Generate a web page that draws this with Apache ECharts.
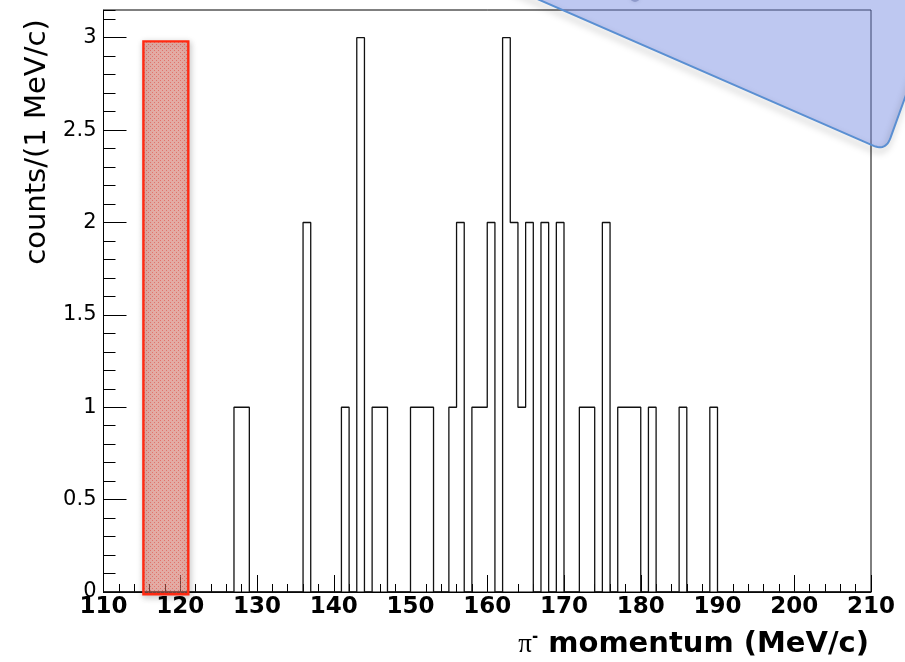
<!DOCTYPE html>
<html>
<head>
<meta charset="utf-8">
<script src="https://cdn.jsdelivr.net/npm/echarts@6/dist/echarts.min.js"></script>
<style>
  html, body { margin: 0; padding: 0; background: #fff; }
  #chart { width: 905px; height: 662px; }
</style>
</head>
<body>
<div id="chart"></div>
<script>
// π⁻ momentum spectrum, 1 MeV/c bins between 110 and 210 MeV/c
const xRange = [110, 210];
const binWidth = 1;
// lower edges (MeV/c) of the non-empty bins and their counts
const binLowEdges = [127, 128, 136, 141, 143, 145, 146, 150, 151, 152, 155, 156, 158, 159, 160,
                     162, 163, 164, 165, 167, 169, 172, 173, 175, 177, 178, 179, 181, 185, 189];
const binCounts   = [1, 1, 2, 1, 3, 1, 1, 1, 1, 1, 1, 2, 1, 1, 2,
                     3, 2, 1, 2, 2, 2, 1, 1, 2, 1, 1, 1, 1, 1, 1];
// tick labels
const xTickLabels = [110, 120, 130, 140, 150, 160, 170, 180, 190, 200, 210];
const yTickLabels = [0, 0.5, 1, 1.5, 2, 2.5, 3];
const yMax = 3.15;
// highlighted momentum window (MeV/c) and its extent in counts
const bandRange = [115.2, 121.05];
const bandCounts = [-0.012, 2.98];

// full histogram: one entry per bin
const nBins = Math.round((xRange[1] - xRange[0]) / binWidth);
const counts = new Array(nBins).fill(0);
binLowEdges.forEach((edge, i) => {
  counts[Math.round((edge - xRange[0]) / binWidth)] = binCounts[i];
});
// outline of the histogram: flat top across each bin
const outline = [];
counts.forEach((c, i) => {
  const lo = xRange[0] + i * binWidth;
  outline.push([lo, c], [lo + binWidth, c]);
});

// dotted pink fill for the highlighted window
const patternCanvas = document.createElement('canvas');
patternCanvas.width = 4; patternCanvas.height = 4;
(function () {
  const g = patternCanvas.getContext('2d');
  g.fillStyle = 'rgba(238,125,112,0.50)';
  g.fillRect(0, 0, 4, 4);
  g.fillStyle = 'rgba(225,70,60,0.55)';
  g.fillRect(0, 0, 1, 1);
  g.fillRect(2, 2, 1, 1);
})();

// callout shape in the upper right corner (rounded tip)
function calloutPoints() {
  const slopeL = 0.437, x0L = 540;          // lower-left edge: y = slopeL*(x - x0L)
  const pR = [893.3, 130], slopeR = -2.77;   // right edge through pR
  const xc = (pR[1] - slopeR * pR[0] + slopeL * x0L) / (slopeL - slopeR);
  const yc = slopeL * (xc - x0L);
  const t1 = [xc - 12, slopeL * (xc - 12 - x0L)];
  const dxR = 12 / Math.abs(slopeR);
  const t2 = [xc + dxR * 1.1, yc - 12 * 1.1];
  const pts = [[x0L - 12 / slopeL - 5, -14], t1];
  for (let k = 1; k < 12; k++) {
    const t = k / 12, u = 1 - t;
    pts.push([u * u * t1[0] + 2 * u * t * xc + t * t * t2[0],
              u * u * t1[1] + 2 * u * t * yc + t * t * t2[1]]);
  }
  pts.push(t2);
  pts.push([pR[0] + (-14 - pR[1]) / slopeR, -14]);
  return pts;
}
const callout = calloutPoints();

const chart = echarts.init(document.getElementById('chart'), null, { renderer: 'canvas' });

const labelFont = { fontFamily: 'DejaVu Sans', fontSize: 21, color: '#000' };

chart.setOption({
  animation: false,
  backgroundColor: '#fff',
  grid: {
    left: 103.5, right: 34, top: 10, bottom: 70,
    show: true, borderColor: '#000', borderWidth: 1, backgroundColor: 'transparent'
  },
  xAxis: {
    type: 'value',
    min: xTickLabels[0], max: xTickLabels[xTickLabels.length - 1],
    interval: xTickLabels[1] - xTickLabels[0],
    axisLine: { lineStyle: { color: '#000', width: 1 } },
    axisTick: { inside: true, length: 17, lineStyle: { color: '#000', width: 1 } },
    minorTick: { show: true, splitNumber: 5, length: 8, lineStyle: { color: '#000', width: 1 } },
    splitLine: { show: false },
    axisLabel: Object.assign({}, labelFont, { fontWeight: 'bold', fontSize: 23, margin: 4 })
  },
  yAxis: [
    {
      type: 'value', min: yTickLabels[0], max: yMax,
      interval: yTickLabels[1] - yTickLabels[0],
      axisLine: { show: true, lineStyle: { color: '#000', width: 1 } },
      axisTick: { show: true, inside: true, length: 23, lineStyle: { color: '#000', width: 1 } },
      splitLine: { show: false },
      axisLabel: Object.assign({}, labelFont, {
        margin: 7, showMaxLabel: false,
        formatter: v => (yTickLabels.indexOf(v) >= 0 ? String(v) : '')
      })
    },
    {
      type: 'value', min: yTickLabels[0], max: yMax, interval: 0.1, position: 'left',
      axisLine: { show: false },
      axisTick: { show: true, inside: true, length: 12, lineStyle: { color: '#000', width: 1 } },
      splitLine: { show: false },
      axisLabel: { show: false }
    }
  ],
  series: [
    {
      type: 'line',
      data: outline,
      yAxisIndex: 0,
      showSymbol: false,
      symbol: 'none',
      lineStyle: { color: '#111', width: 1.3 },
      z: 3
    },
    {
      type: 'custom',
      yAxisIndex: 0,
      clip: false,
      z: 5,
      data: [[bandRange[0], bandRange[1], bandCounts[0], bandCounts[1]]],
      renderItem: (params, api) => {
        const p0 = api.coord([api.value(0), api.value(3)]);
        const p1 = api.coord([api.value(1), api.value(2)]);
        return {
          type: 'rect',
          shape: { x: p0[0], y: p0[1], width: p1[0] - p0[0], height: p1[1] - p0[1] },
          style: {
            fill: { image: patternCanvas, repeat: 'repeat' },
            stroke: '#ff2a12', lineWidth: 2.4,
            shadowBlur: 6, shadowColor: 'rgba(0,0,0,0.28)', shadowOffsetX: 1, shadowOffsetY: 2
          }
        };
      }
    }
  ],
  graphic: [
    {
      type: 'text', x: 37, y: 142, rotation: Math.PI / 2,
      style: {
        text: 'counts/(1 MeV/c)', fill: '#000',
        font: '29px "DejaVu Sans"', align: 'center', verticalAlign: 'middle'
      }
    },
    {
      type: 'text', x: 869, y: 659,
      style: {
        text: '{pi|π}{sup|-}{b| momentum (MeV/c)}',
        align: 'right', verticalAlign: 'bottom', fill: '#000',
        rich: {
          pi: { fontFamily: 'Liberation Serif', fontSize: 27, color: '#000' },
          sup: { fontFamily: 'DejaVu Sans', fontWeight: 'bold', fontSize: 15, color: '#000', verticalAlign: 'top' },
          b: { fontFamily: 'DejaVu Sans', fontWeight: 'bold', fontSize: 29, color: '#000' }
        }
      }
    },
    {
      type: 'polygon', z: 100,
      shape: { points: callout },
      style: { fill: 'rgba(120,140,225,0.48)', stroke: 'none' }
    },
    {
      type: 'polyline', z: 101,
      shape: { points: callout },
      style: {
        stroke: '#5a8fd2', lineWidth: 2, fill: 'none',
        shadowBlur: 7, shadowColor: 'rgba(0,0,0,0.35)', shadowOffsetX: -1, shadowOffsetY: 4
      }
    },
    {
      type: 'circle', z: 99,
      shape: { cx: 635, cy: -3, r: 5 },
      style: { fill: 'rgba(110,115,140,0.55)', shadowBlur: 4, shadowColor: 'rgba(0,0,0,0.3)' }
    }
  ]
});
</script>
</body>
</html>
